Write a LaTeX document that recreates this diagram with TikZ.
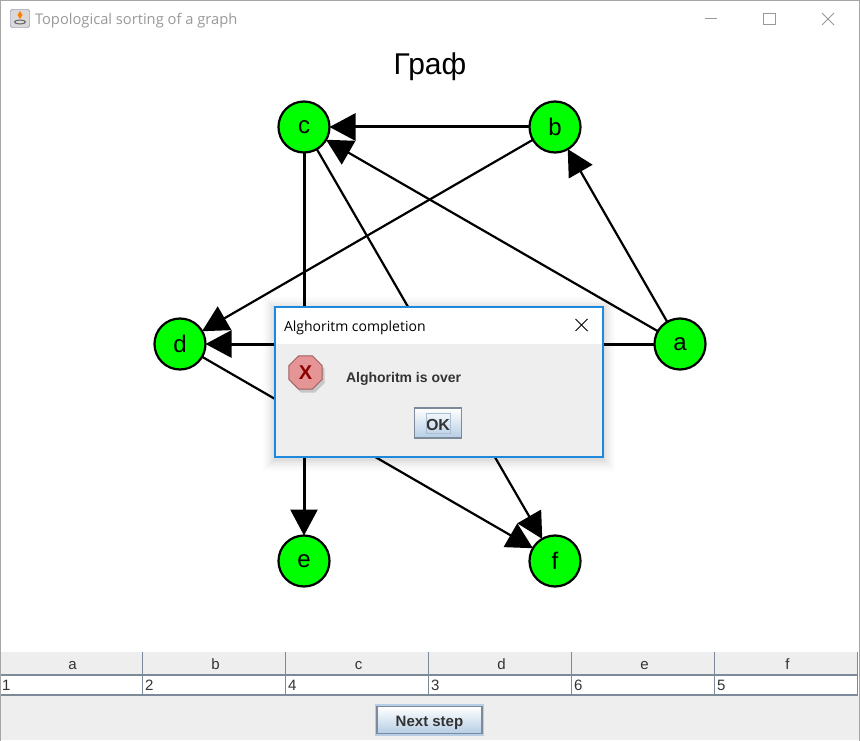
\documentclass[tikz,border=0pt]{standalone}
\usepackage{fontspec}
\setmainfont{Liberation Sans}
\newfontfamily\titlefont{Open Sans}
\usetikzlibrary{positioning,arrows.meta,shapes.geometric}
\definecolor{paneGray}{HTML}{EEEEEE}
\definecolor{gridGray}{HTML}{7C8A99}
\definecolor{textDark}{HTML}{333333}
\definecolor{dialogBlue}{HTML}{1E88DC}
\definecolor{btnBlue}{HTML}{B5CDE5}
\definecolor{nodeGreen}{HTML}{00FF00}
\newcommand{\fsize}[1]{\fontsize{#1}{#1}\selectfont}

\begin{document}
\begin{tikzpicture}[x=1pt, y=-1pt, >={Triangle[length=26pt,width=27pt]}, node distance=251pt]
\tikzstyle{every node}=[inner sep=0pt, outer sep=0pt]
\tikzstyle{vertex}=[circle, draw=black, line width=2.2pt, fill=nodeGreen, minimum size=51pt, font=\fsize{24}]
\tikzstyle{link}=[black, line width=2.2pt]
\tikzstyle{straightlink}=[black, line width=3pt]
\tikzstyle{panel}=[anchor=north west, fill=paneGray]
\tikzstyle{headcell}=[fill=paneGray, text=textDark, minimum width=143pt, minimum height=23pt, text height=11pt, text depth=0pt, font=\fsize{15}, execute at begin node=\hspace*{3pt}]
\tikzstyle{valcell}=[fill=white, text=textDark, minimum height=20pt, text width=138pt, inner xsep=2.5pt, align=left, font=\fsize{15}]
\tikzstyle{gridline}=[gridGray, line width=1.2pt]
\tikzstyle{jbutton}=[draw=gridGray, line width=1.6pt, top color=white, bottom color=btnBlue, text=textDark, font=\bfseries]
\tikzstyle{winbtn}=[draw=black!40, line width=1pt]
\useasboundingbox (0,0) rectangle (860,741);
\fill[white] (0,0) rectangle (860,741);

% window title
\node[anchor=north west, draw=gray!80!blue, rounded corners=2pt, fill=black!15!white, minimum width=19pt, minimum height=18pt] (icon) at (10.5,9.5) {};
\node[diamond, fill=orange, minimum width=5pt, minimum height=8pt] (flame) at (20,15) {};
\node[ellipse, draw=black!60, line width=1pt, minimum width=11pt, minimum height=4pt] (cup) at (20,22) {};
\node[anchor=west, text=black!40, font=\titlefont\fsize{14.7}] (wintitle) at (35,20.5) {Topological sorting of a graph};
\draw[winbtn] (705,18.5) -- (717,18.5);
\draw[winbtn] (763.5,13.5) rectangle (775,24.5);
\draw[winbtn] (822,13) -- (834,25);
\draw[winbtn] (834,13) -- (822,25);

\node[font=\fsize{30}] (title) at (430,67) {Граф};

% graph
\node[vertex] (c) at (304,127) {c};
\node[vertex] (b) [right of=c] {b};
\node[vertex, node distance=434pt] (e) [below of=c] {e};
\node[vertex, node distance=434pt] (f) [below of=b] {f};
\node[vertex] (d) at (180,344) {d};
\node[vertex, node distance=500pt] (a) [right of=d] {a};

\path[->, straightlink] (b) edge (c);
\path[->, link] (b) edge (d);
\path[->, link] (a) edge (b);
\path[->, link] (a) edge (c);
\path[->, straightlink] (a) edge (d);
\path[->, straightlink] (c) edge (e);
\path[->, link] (c) edge (f);
\path[->, link] (d) edge (f);

% table and button
\node[headcell, anchor=north west] (ha) at (-0.5,652) {a};
\node[headcell] (hb) [right=0pt of ha] {b};
\node[headcell] (hc) [right=0pt of hb] {c};
\node[headcell] (hd) [right=0pt of hc] {d};
\node[headcell] (he) [right=0pt of hd] {e};
\node[headcell] (hf) [right=0pt of he] {f};
\node[valcell] (va) [below=0pt of ha] {1};
\node[valcell] (vb) [below=0pt of hb] {2};
\node[valcell] (vc) [below=0pt of hc] {4};
\node[valcell] (vd) [below=0pt of hd] {3};
\node[valcell] (ve) [below=0pt of he] {6};
\node[valcell] (vf) [below=0pt of hf] {5};
\draw[gridline] (ha.south west) -- (hf.south east);
\draw[gridline] (va.south west) -- (vf.south east);
\draw[gridline] (ha.north east) -- (va.south east);
\draw[gridline] (hb.north east) -- (vb.south east);
\draw[gridline] (hc.north east) -- (vc.south east);
\draw[gridline] (hd.north east) -- (vd.south east);
\draw[gridline] (he.north east) -- (ve.south east);
\draw[gridline] (hf.north east) -- (vf.south east);
\node[panel, minimum width=858pt, minimum height=44pt] (bottom) at (1,696) {};
\node[jbutton, minimum width=105pt, minimum height=27pt, font=\bfseries\fsize{15}] (next) at (429.5,720) {\raisebox{0pt}[15pt][3pt]{Next step}};
\draw[btnBlue, line width=1.5pt] ([shift={(-1.5pt,-1.5pt)}]next.south west) rectangle ([shift={(1.5pt,1.5pt)}]next.north east);
\draw[draw=gray!70, line width=1pt] (0.5,0.5) rectangle (859,741);

% dialog
\fill[black, opacity=0.012] (263,297) rectangle (615,471);
\fill[black, opacity=0.015] (265,299) rectangle (613,469);
\fill[black, opacity=0.018] (267,301) rectangle (611,467);
\fill[black, opacity=0.022] (269,303) rectangle (609,465);
\fill[black, opacity=0.028] (271,305) rectangle (607,463);
\fill[black, opacity=0.035] (273,306) rectangle (605,461);
\node[anchor=north west, fill=paneGray, minimum width=328pt, minimum height=150pt] (dialog) at (275,307) {};
\node[anchor=north west, fill=white, minimum width=328pt, minimum height=37pt] (dlgbar) at (275,307) {};
\draw[dialogBlue, line width=1.2pt] (dialog.south west) rectangle (dialog.north east);
\node[anchor=west, text=black, font=\titlefont\fsize{14}] (dlgtitle) at (284,328) {Alghoritm completion};
\draw[black, line width=1pt] (575.5,319) -- (587.5,331);
\draw[black, line width=1pt] (587.5,319) -- (575.5,331);
\node[regular polygon, regular polygon sides=8, fill=black!22, minimum size=36pt] (shadow) at (308,376) {};
\node[regular polygon, regular polygon sides=8, draw=red!25!gray, line width=1pt, fill=red!35!white!90!black, minimum size=36pt, text=red!55!black, font=\bfseries\fsize{20}] (erricon) at (305.5,372.5) {X};
\node[anchor=west, text=textDark, font=\bfseries\fsize{14}] (msg) at (346,378.5) {Alghoritm is over};
\node[jbutton, minimum width=47pt, minimum height=30pt, font=\bfseries\fsize{16}] (ok) at (438,423) {\raisebox{0pt}[15.5pt][0pt]{OK}};
\draw[draw=btnBlue!80!gray, line width=0.8pt] ([shift={(12pt,5pt)}]ok.south west) rectangle ([shift={(-11pt,-5pt)}]ok.north east);
\end{tikzpicture}
\end{document}
